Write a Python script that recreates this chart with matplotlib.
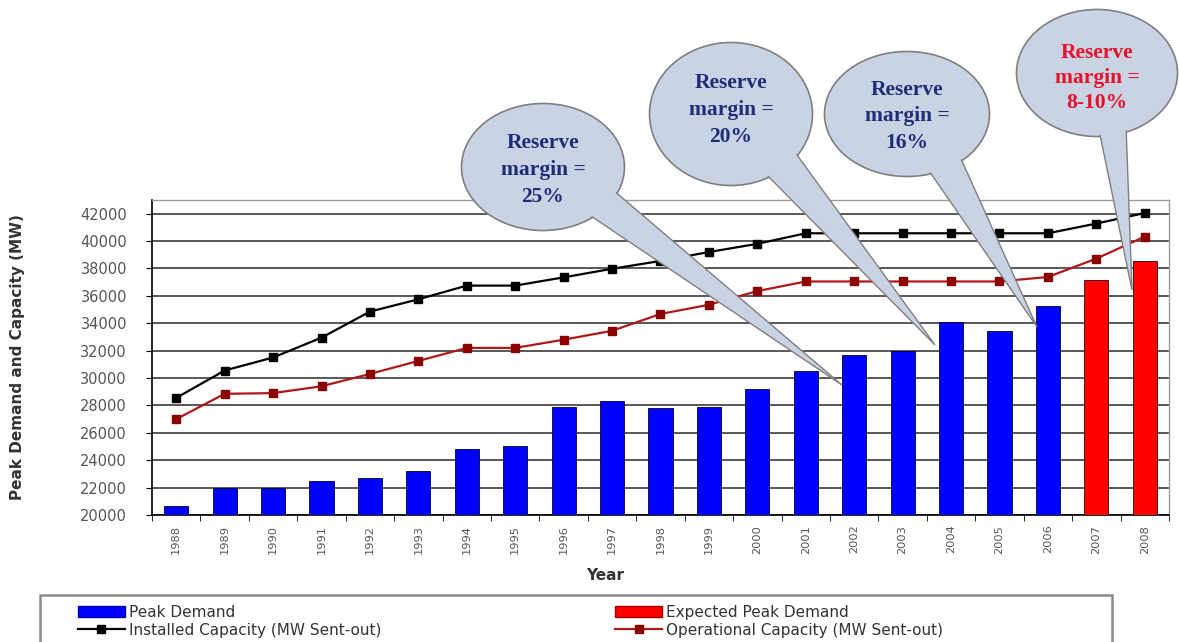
import matplotlib
matplotlib.use("Agg")
import matplotlib.pyplot as plt
from matplotlib.patches import Ellipse, Polygon, Patch, Rectangle
from matplotlib.lines import Line2D
import numpy as np

# data
years = ['1988', '1989', '1990', '1991', '1992', '1993', '1994', '1995', '1996', '1997',
         '1998', '1999', '2000', '2001', '2002', '2003', '2004', '2005', '2006', '2007', '2008']
peak_demand = [20650, 21950, 21950, 22450, 22700, 23200, 24800, 25050, 27900, 28300,
               27800, 27900, 29200, 30550, 31650, 31950, 34100, 33450, 35250]
expected_peak = [37150, 38550]
installed_cap = [28550, 30550, 31500, 32950, 34850, 35750, 36750, 36750, 37350, 37980,
                 38550, 39200, 39800, 40570, 40570, 40570, 40570, 40570, 40570, 41280, 42050]
operational_cap = [27000, 28850, 28900, 29400, 30300, 31250, 32200, 32200, 32800, 33450,
                   34680, 35350, 36350, 37050, 37050, 37050, 37050, 37050, 37380, 38720, 40330]
y_ticks = [20000, 22000, 24000, 26000, 28000, 30000, 32000, 34000, 36000, 38000, 40000, 42000]

callout_lines = [['Reserve', 'margin =', '25%'],
                 ['Reserve', 'margin =', '20%'],
                 ['Reserve', 'margin =', '16%'],
                 ['Reserve', 'margin =', '8-10%']]

W, H = 1179, 642
fig = plt.figure(figsize=(W / 100, H / 100), dpi=100)
fig.patch.set_facecolor('white')

ax = fig.add_axes([152 / W, (H - 515) / H, (1169 - 152) / W, (515 - 200) / H])

x = np.arange(len(years))
n_actual = len(peak_demand)
ax.bar(x[:n_actual], peak_demand, width=0.5, color='#0000ff',
       edgecolor='#000033', linewidth=0.6, zorder=3)
ax.bar(x[n_actual:], expected_peak, width=0.5, color='#ff0000',
       edgecolor='#330000', linewidth=0.6, zorder=3)

ax.plot(x, installed_cap, color='black', lw=1.6, marker='s', markersize=6,
        markerfacecolor='black', markeredgecolor='black', zorder=4)
ax.plot(x, operational_cap, color='#b01818', lw=1.6, marker='s', markersize=6,
        markerfacecolor='#8b0000', markeredgecolor='#8b0000', zorder=4)

ax.set_ylim(20000, 43000)
ax.set_xlim(-0.5, len(years) - 0.5)
ax.set_yticks(y_ticks)
ax.set_yticklabels([str(v) for v in y_ticks], fontsize=10.5, color='#555555')
ax.set_xticks(x)
ax.set_xticklabels(years, rotation=90, fontsize=8.2, color='#555555')
ax.set_xticks(np.arange(-0.5, len(years)), minor=True)
ax.tick_params(axis='x', which='major', length=0, pad=7)
ax.tick_params(axis='x', which='minor', length=4, direction='out', color='black')
ax.tick_params(axis='y', length=4, direction='out', pad=14)

ax.yaxis.grid(True, color='#3c3c3c', lw=1.2, zorder=0)
ax.set_axisbelow(True)
for s in ['top', 'right']:
    ax.spines[s].set_color('#9a9a9a')
    ax.spines[s].set_linewidth(1)
for s in ['left', 'bottom']:
    ax.spines[s].set_color('black')
    ax.spines[s].set_linewidth(1.2)

fig.text(18 / W, 1 - 357 / H, 'Peak Demand and Capacity (MW)', rotation=90,
         ha='center', va='center', fontsize=11, fontweight='bold', color='#333333')
fig.text(605 / W, 1 - 575 / H, 'Year', ha='center', va='center',
         fontsize=11, fontweight='bold', color='#333333')

# overlay in pixel space for the legend box and the callouts
ov = fig.add_axes([0, 0, 1, 1], zorder=5)
ov.set_xlim(0, W)
ov.set_ylim(H, 0)
ov.axis('off')
ov.patch.set_alpha(0)

# legend box (extends past the bottom edge like the reference)
ov.add_patch(Rectangle((40, 595), 1072, 60, facecolor='white', edgecolor='#8a8a8a', lw=1.8))

handles = [Patch(facecolor='#0000ff', edgecolor='#0000aa'),
           Line2D([], [], color='black', lw=1.6, marker='s', markersize=6),
           Patch(facecolor='#ff0000', edgecolor='#aa0000'),
           Line2D([], [], color='#b01818', lw=1.6, marker='s', markersize=6,
                  markerfacecolor='#8b0000', markeredgecolor='#8b0000')]
labels = ['Peak Demand', 'Installed Capacity (MW Sent-out)',
          'Expected Peak Demand', 'Operational Capacity (MW Sent-out)']
leg = fig.legend(handles, labels, ncol=2, loc='upper left',
                 bbox_to_anchor=(70 / W, 1 - 597 / H), fontsize=11,
                 handlelength=3.1, handletextpad=0.25, columnspacing=15.3,
                 labelspacing=0.2, borderpad=0.0, frameon=False)
leg.set_zorder(6)
for t in leg.get_texts():
    t.set_color('#333333')

fill_c = '#c9d3e3'
edge_c = '#7f7f7f'
callouts = [
    # center, width, height, wedge base 1, wedge base 2, tip, text y positions, color
    ((543, 167), 163, 127, (585, 212), (613, 190), (842, 385), (143, 170, 197), '#1f2d78'),
    ((731, 114), 163, 143, (760, 168), (792, 148), (935, 345), (83, 110, 137), '#1f2d78'),
    ((907, 114), 165, 125, (925, 165), (957, 150), (1037, 327), (90, 116, 143), '#1f2d78'),
    ((1097, 73), 161, 127, (1098, 125), (1126, 125), (1132, 290), (53, 78, 103), '#e8102a'),
]
for (c, w, h, b1, b2, tip, ty, tc), lines in zip(callouts, callout_lines):
    ov.add_patch(Ellipse(c, w, h, facecolor=fill_c, edgecolor=edge_c, lw=1.2))
    ov.add_patch(Polygon([b1, tip, b2], closed=True, facecolor=fill_c,
                         edgecolor=edge_c, lw=1.0))
    ov.add_patch(Ellipse(c, w - 3, h - 3, facecolor=fill_c, edgecolor='none'))
    for line, yy in zip(lines, ty):
        ov.text(c[0], yy, line, ha='center', va='center', fontsize=15.5,
                fontweight='bold', family='Liberation Serif', color=tc)

fig.savefig('out.png', dpi=100)
